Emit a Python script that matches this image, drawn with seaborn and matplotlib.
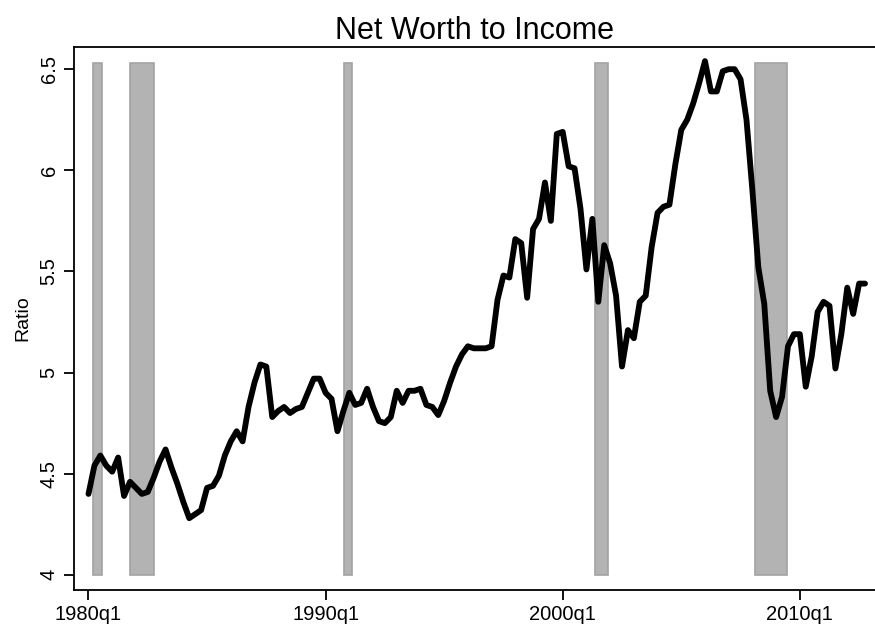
import pandas as pd
import seaborn as sns
import matplotlib.pyplot as plt

# Net worth to income ratio, quarterly from 1980q1
ratio = [4.40, 4.54, 4.59, 4.54, 4.51, 4.58, 4.39, 4.46, 4.43, 4.40,
         4.41, 4.48, 4.56, 4.62, 4.53, 4.45, 4.36, 4.28, 4.30, 4.32,
         4.43, 4.44, 4.49, 4.59, 4.66, 4.71, 4.66, 4.83, 4.95, 5.04,
         5.03, 4.78, 4.81, 4.83, 4.80, 4.82, 4.83, 4.90, 4.97, 4.97,
         4.90, 4.87, 4.71, 4.81, 4.90, 4.84, 4.85, 4.92, 4.83, 4.76,
         4.75, 4.78, 4.91, 4.85, 4.91, 4.91, 4.92, 4.84, 4.83, 4.79,
         4.86, 4.95, 5.03, 5.09, 5.13, 5.12, 5.12, 5.12, 5.13, 5.36,
         5.48, 5.47, 5.66, 5.64, 5.37, 5.71, 5.76, 5.94, 5.75, 6.18,
         6.19, 6.02, 6.01, 5.81, 5.51, 5.76, 5.35, 5.63, 5.54, 5.38,
         5.03, 5.21, 5.17, 5.35, 5.38, 5.62, 5.79, 5.82, 5.83, 6.03,
         6.20, 6.25, 6.33, 6.43, 6.54, 6.39, 6.39, 6.49, 6.50, 6.50,
         6.45, 6.25, 5.90, 5.52, 5.34, 4.91, 4.78, 4.88, 5.13, 5.19,
         5.19, 4.93, 5.08, 5.30, 5.35, 5.33, 5.02, 5.19, 5.42, 5.29,
         5.44, 5.44]

# shaded recessions (start, end) in fractional years
recessions = [(1980.21, 1980.59), (1981.73, 1982.78), (1990.77, 1991.11),
              (2001.35, 2001.90), (2008.10, 2009.44)]

tick_years = [1980, 1990, 2000, 2010]
tick_labels = ['1980q1', '1990q1', '2000q1', '2010q1']
y_ticks = [4, 4.5, 5, 5.5, 6, 6.5]
y_labels = ['4', '4.5', '5', '5.5', '6', '6.5']

quarters = pd.period_range('1980Q1', periods=len(ratio), freq='Q')
df = pd.DataFrame({'t': quarters.year + (quarters.quarter - 1) / 4,
                   'ratio': ratio})

sns.set_style('ticks')
plt.rcParams['font.family'] = ['Liberation Sans', 'DejaVu Sans']
plt.rcParams['text.color'] = 'black'
plt.rcParams['axes.labelcolor'] = 'black'
plt.rcParams['xtick.color'] = 'black'
plt.rcParams['ytick.color'] = 'black'

fig = plt.figure(figsize=(8.75, 6.26), dpi=100)
ax = fig.add_axes([0.0846, 0.0575, 0.9154, 0.8675])

ylo, yhi = 3.925, 6.61
for a, b in recessions:
    ax.axvspan(a, b, ymin=(4.0 - ylo) / (yhi - ylo),
               ymax=(6.53 - ylo) / (yhi - ylo),
               facecolor='#b3b3b3', edgecolor='#a3a3a3', linewidth=1.2, zorder=1)

sns.lineplot(data=df, x='t', y='ratio', color='black', linewidth=4.2, ax=ax, zorder=3)

ax.set_xlim(1979.39, 2013.17)
ax.set_ylim(ylo, yhi)
ax.set_xticks(tick_years)
ax.set_xticklabels(tick_labels, fontsize=14.5)
ax.set_yticks(y_ticks)
ax.set_yticklabels(y_labels, fontsize=14.5, rotation=90, va='center')
ax.tick_params(axis='both', direction='out', length=7, width=1.3, color='black', pad=4)
ax.set_xlabel('')
ax.set_ylabel('Ratio', fontsize=14, labelpad=6)
ax.set_title('Net Worth to Income', fontsize=22, pad=6)

for side in ['left', 'bottom', 'top']:
    ax.spines[side].set_color('black')
    ax.spines[side].set_linewidth(1.3)
ax.spines['right'].set_visible(False)

fig.savefig('out.png', dpi=100)
